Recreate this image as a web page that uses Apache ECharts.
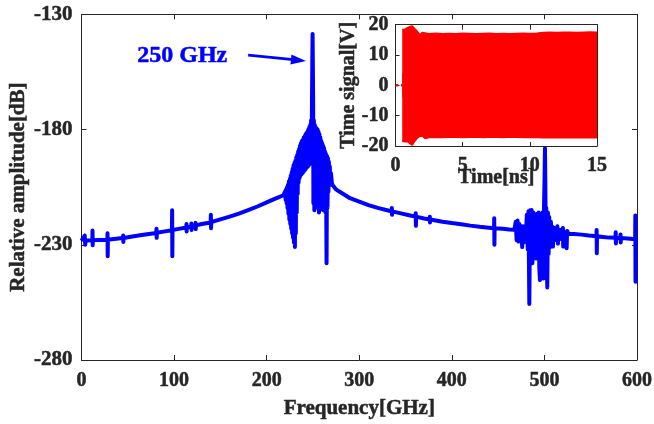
<!DOCTYPE html>
<html>
<head>
<meta charset="utf-8">
<style>
  html, body { margin: 0; padding: 0; background: #ffffff; }
  #chart { width: 654px; height: 424px; }
</style>
<script src="https://cdn.jsdelivr.net/npm/echarts@6/dist/echarts.min.js"></script>
</head>
<body>
<div id="chart"></div>
<script>
// Spectrum [frequency GHz, relative amplitude dB], split into bands
const lowBand = [
  [0,-228.3],[2,-228.2],[3.5,-226],[4,-230],[4.5,-228.2],[7,-228.1],
  [11.7,-228.0],[11.9,-223.8],[12.1,-230.2],[12.3,-228.0],[18,-227.9],
  [27.9,-227.8],[28.1,-225],[28.3,-235],[28.5,-227.8],[35,-227.5],
  [44.8,-227.1],[45,-226],[45.2,-228.8],[45.4,-227.1],[55,-226.4],[65,-225.8],
  [80.8,-224.9],[81,-223],[81.2,-227],[81.4,-224.8],[90,-224.2],
  [97.7,-223.7],[97.9,-215],[98.1,-235],[98.3,-223.6],[105,-223.1],
  [113.2,-222.5],[113.4,-221],[113.6,-224.2],[113.8,-222.4],
  [118.5,-222.1],[118.7,-220.8],[118.9,-223.6],[119.1,-222],
  [123,-221.7],[123.2,-220.5],[123.4,-223.2],[123.6,-221.6],[130,-221],
  [139.5,-220.3],[139.7,-217],[139.9,-222.8],[140.1,-220.2],
  [150,-219],[160,-217.8],[170,-216.5],[180,-215],[190,-213.4],
  [200,-211.6],[208,-210.2],[214,-209.2],[218,-208.5]
];
const peakBand = [
  [219,-208.3],
  [220,-206.8],[220.5,-210.5],[221,-206],[221.5,-212],[222,-205],[222.5,-214],
  [223,-204],[223.5,-216.5],[224,-202.5],[224.5,-219],[225,-201.5],[225.5,-221],
  [226,-200],[226.5,-223],[227,-198.5],[227.5,-225],[228,-197],[228.5,-227],
  [229,-195.5],[229.5,-229],[230,-194.5],[230.5,-231],[231,-193.5],[231.5,-225],
  [232,-192],[232.5,-216],[233,-191],[233.5,-208],[234,-189.5],[234.5,-203],
  [235,-188.5],[235.5,-201],[236,-187],[236.5,-200],[237,-186],[237.5,-199.5],
  [238,-185],[238.5,-199],[239,-184.5],[239.5,-198.5],[240,-183.5],[240.5,-198],
  [241,-183],[241.5,-197.5],[242,-182],[242.5,-197],[243,-181.5],[243.5,-196.5],
  [244,-181],[244.5,-196],[245,-180],[245.5,-195.5],[246,-179],[246.5,-195],
  [247,-178],[247.5,-194],[248,-176],[248.5,-192],
  [249,-165],[249.3,-150],[249.6,-138.5],[249.9,-152],[250.2,-168],
  [250.5,-212],[251,-176],[251.5,-215],[252,-178],[252.5,-212],[253,-179],
  [253.5,-195],[254,-179.5],[254.5,-203],[255,-180],[255.5,-214],[256,-181],
  [256.5,-216],[257,-182],[257.5,-215],[258,-183.5],[258.5,-213],[259,-185],
  [259.5,-212],[260,-186],[260.5,-214],[261,-187],[261.5,-215],[262,-188],
  [262.5,-214],[263,-189.5],[263.5,-216],[264,-190.5],[264.7,-238],[265.2,-191.5],
  [265.7,-214],[266.2,-192.5],[266.7,-207],[267.2,-194],[267.7,-204],[268.2,-196],
  [268.7,-204],[269.5,-199],[270.5,-203.5],[272,-204.5],[275,-206]
];
const midBand = [
  [278,-206.8],[285,-208.5],[290,-209.8],[300,-211.3],[310,-212.8],[320,-214],
  [330,-215],[335,-215.5],[335.2,-214],[335.4,-217],[335.6,-215.5],[345,-216.4],
  [355,-217.3],[360.8,-217.8],[361,-216.3],[361.2,-221.8],[361.4,-217.8],
  [370,-218.6],[376,-219],[376.2,-217.8],[376.4,-220.3],[376.6,-219],
  [390,-220],[400,-220.6],[410,-221.1],[420,-221.7],[430,-222.2],[440,-222.6],
  [445.6,-222.8],[445.8,-218.5],[446,-230],[446.2,-222.8],[455,-223.1],
  [462,-223.4],[467,-223.5]
];
const burstBand = [
  [468,-222.5],[469,-220],[470,-228],[471,-219.5],[472,-228.6],[473,-221],
  [474,-227],[475,-222],[476,-231],[477,-222],[478,-229],[479,-223],[480,-226.5],
  [481,-217],[482,-232],[482.8,-215.5],[483.7,-255.7],[484.5,-215],[485.3,-236],
  [486.2,-214.9],[487,-238],[488,-216],[489,-233],[490,-218],[491,-236],
  [492,-216.5],[493,-232],[493.8,-216],[494.5,-240],[495.2,-245.3],[496,-218],
  [497,-232],[498,-216],[498.8,-244.6],[499.5,-215],[500.2,-200],[500.6,-188.1],
  [501,-203],[501.4,-226],[502,-214],[502.5,-235],[503.1,-248.5],[503.8,-216],
  [504.5,-234],[505.2,-218],[506,-231],[507,-220],[508,-229],[508.6,-222.2],
  [509.2,-230.8],[510,-222.5],[511,-228],[512,-223],[513,-228],[514,-222],
  [514.6,-229.5],[515.5,-223.5],[517,-227.5],[518,-223.5],[519,-226.8],
  [520,-222.7],[520.3,-230.8],[521,-224.3],[522,-227],[523.5,-224.5],
  [524,-231.5],[524.5,-224],[526,-225.3]
];
const highBand = [
  [532,-225.3],[540,-225.6],[548,-226],[556.2,-226.3],[556.4,-223.6],
  [556.6,-233.7],[556.8,-226.3],[563,-226.6],[570,-226.9],[576.8,-227],
  [577,-224.6],[577.2,-229.4],[577.4,-227],[582,-227.1],[582.2,-225.5],
  [582.4,-229],[582.6,-227.1],[590,-227.3],[598,-227.6],[598.2,-217.3],
  [598.4,-246],[598.6,-227.6],[601,-227.7]
];

// Time signal: quiet lead-in at 0 V, then the oscillation envelope (ns, V)
const leadTime = [0, 0.2, 0.3, 0.4, 0.5];
const leadVolt = [0, 0, null, 0, 0];
const timeNs   = [0.5, 0.7, 0.9, 1.1, 1.25, 1.4, 1.6, 1.8, 2.0, 2.2, 2.5, 3.0, 3.5, 4.0, 4.5, 5.0, 5.5, 6.0, 6.5, 7.0, 7.5, 8.0, 8.5, 9.0, 9.5, 10.0, 10.5, 11.0, 11.5, 12.0, 12.5, 13.0, 13.5, 14.0, 14.5, 15.0];
const sigUpper = [18.4, 18.5, 19.0, 19.4, 19.6, 18.8, 17.9, 16.7, 17.4, 17.3, 17.0, 17.2, 17.0, 17.1, 17.0, 17.2, 17.1, 17.0, 17.1, 17.2, 17.0, 17.1, 17.0, 17.1, 17.2, 17.1, 17.2, 17.4, 17.5, 17.4, 17.5, 17.5, 17.4, 17.5, 17.6, 17.5];
const sigLower = [-18.4, -18.6, -18.5, -19.3, -19.7, -18.6, -17.5, -16.8, -16.7, -17.5, -17.2, -17.1, -17.2, -17.0, -17.1, -17.2, -17.1, -17.0, -17.2, -17.1, -17.1, -17.2, -17.0, -17.1, -17.2, -17.1, -17.2, -17.3, -17.2, -17.3, -17.3, -17.2, -17.3, -17.3, -17.2, -17.3];

// Axis ticks
const freqTicks = { min: 0, max: 600, step: 100 };
const ampTicks  = { min: -280, max: -130, step: 50 };
const timeTicks = { min: 0, max: 15, step: 5 };
const voltTicks = { min: -20, max: 20, step: 10 };

const spectrum = [].concat(lowBand, peakBand, midBand, burstBand, highBand);
const leadIn   = leadTime.map((t, i) => [t, leadVolt[i]]);
const signalUp = timeNs.map((t, i) => [t, sigUpper[i]]);
const signalLo = timeNs.map((t, i) => [t, sigLower[i]]);

const INK = '#262626';
const FONT = 'Liberation Serif';
const heavy = { textBorderColor: INK, textBorderWidth: 0.5 };
const labelStyle = Object.assign({ color: INK, fontFamily: FONT, fontWeight: 'bold', fontSize: 20 }, heavy);
const nameStyle  = Object.assign({ color: INK, fontFamily: FONT, fontWeight: 'bold', fontSize: 21 }, heavy);

function axisBase(t, extra) {
  return Object.assign({
    type: 'value', min: t.min, max: t.max, interval: t.step,
    nameMoveOverlap: false,
    axisLine: { show: true, onZero: false, lineStyle: { color: INK, width: 1 } },
    axisTick: { show: true, inside: true, length: 5, lineStyle: { color: INK, width: 1 } },
    splitLine: { show: false },
    axisLabel: Object.assign({ show: true }, labelStyle)
  }, extra);
}
function mirror(t, pos, grid) {
  return axisBase(t, { gridIndex: grid, position: pos, axisLabel: { show: false } });
}

const chart = echarts.init(document.getElementById('chart'), null, { renderer: 'canvas' });

chart.setOption({
  animation: false,
  backgroundColor: '#ffffff',
  grid: [
    { left: 81.5, top: 14.3, width: 555.5, height: 345.7, containLabel: false, outerBoundsMode: 'none' },
    { left: 395.5, top: 24.7, width: 201.5, height: 121.3, containLabel: false, outerBoundsMode: 'none' }
  ],
  xAxis: [
    axisBase(freqTicks, { gridIndex: 0, position: 'bottom', name: 'Frequency[GHz]',
      nameLocation: 'middle', nameGap: 38, nameTextStyle: nameStyle,
      axisLabel: Object.assign({ margin: 11 }, labelStyle) }),
    mirror(freqTicks, 'top', 0),
    axisBase(timeTicks, { gridIndex: 1, position: 'bottom', name: 'Time[ns]',
      nameLocation: 'middle', nameGap: 22, nameTextStyle: Object.assign({}, nameStyle, { fontSize: 20 }),
      axisTick: { show: true, inside: true, length: 4, lineStyle: { color: INK } },
      axisLabel: Object.assign({ margin: 10 }, labelStyle) }),
    mirror(timeTicks, 'top', 1)
  ],
  yAxis: [
    axisBase(ampTicks, { gridIndex: 0, position: 'left', name: 'Relative amplitude[dB]',
      nameLocation: 'middle', nameGap: 52, nameTextStyle: nameStyle,
      axisLabel: Object.assign({ margin: 9 }, labelStyle, { fontSize: 21 }) }),
    mirror(ampTicks, 'right', 0),
    axisBase(voltTicks, { gridIndex: 1, position: 'left', name: 'Time signal[V]',
      nameLocation: 'middle', nameGap: 37, nameTextStyle: Object.assign({}, nameStyle, { fontSize: 20 }),
      axisTick: { show: true, inside: true, length: 4, lineStyle: { color: INK } },
      axisLabel: Object.assign({ margin: 7 }, labelStyle) }),
    mirror(voltTicks, 'right', 1)
  ],
  series: [
    {
      type: 'line', xAxisIndex: 0, yAxisIndex: 0, data: spectrum,
      symbol: 'none', clip: true, silent: true,
      lineStyle: { color: '#0000ff', width: 4, join: 'round' },
      markLine: {
        silent: true, animation: false,
        symbol: ['none', 'triangle'], symbolSize: [10, 15],
        label: { show: false },
        lineStyle: { color: '#0000ff', width: 2.6, type: 'solid' },
        data: [[{ coord: [180, -147.7] }, { coord: [234.3, -149.9] }]]
      }
    },
    {
      type: 'line', xAxisIndex: 2, yAxisIndex: 2, data: leadIn,
      symbol: 'none', silent: true, z: 3, connectNulls: false,
      lineStyle: { color: '#ff0000', width: 2.5 }
    },
    {
      type: 'line', xAxisIndex: 2, yAxisIndex: 2, data: signalUp,
      symbol: 'none', silent: true, z: 3,
      lineStyle: { color: '#ff0000', width: 1.5 },
      areaStyle: { color: '#ff0000', opacity: 1, origin: -4 }
    },
    {
      type: 'line', xAxisIndex: 2, yAxisIndex: 2, data: signalLo,
      symbol: 'none', silent: true, z: 3,
      lineStyle: { color: '#ff0000', width: 1.5 },
      areaStyle: { color: '#ff0000', opacity: 1, origin: 4 }
    }
  ],
  graphic: [
    {
      type: 'text', left: 137, top: 44, silent: true,
      style: { text: '250 GHz', fill: '#0000ff', stroke: '#0000ff', lineWidth: 0.5,
               font: 'bold 24px "Liberation Serif"' }
    }
  ]
});
</script>
</body>
</html>
